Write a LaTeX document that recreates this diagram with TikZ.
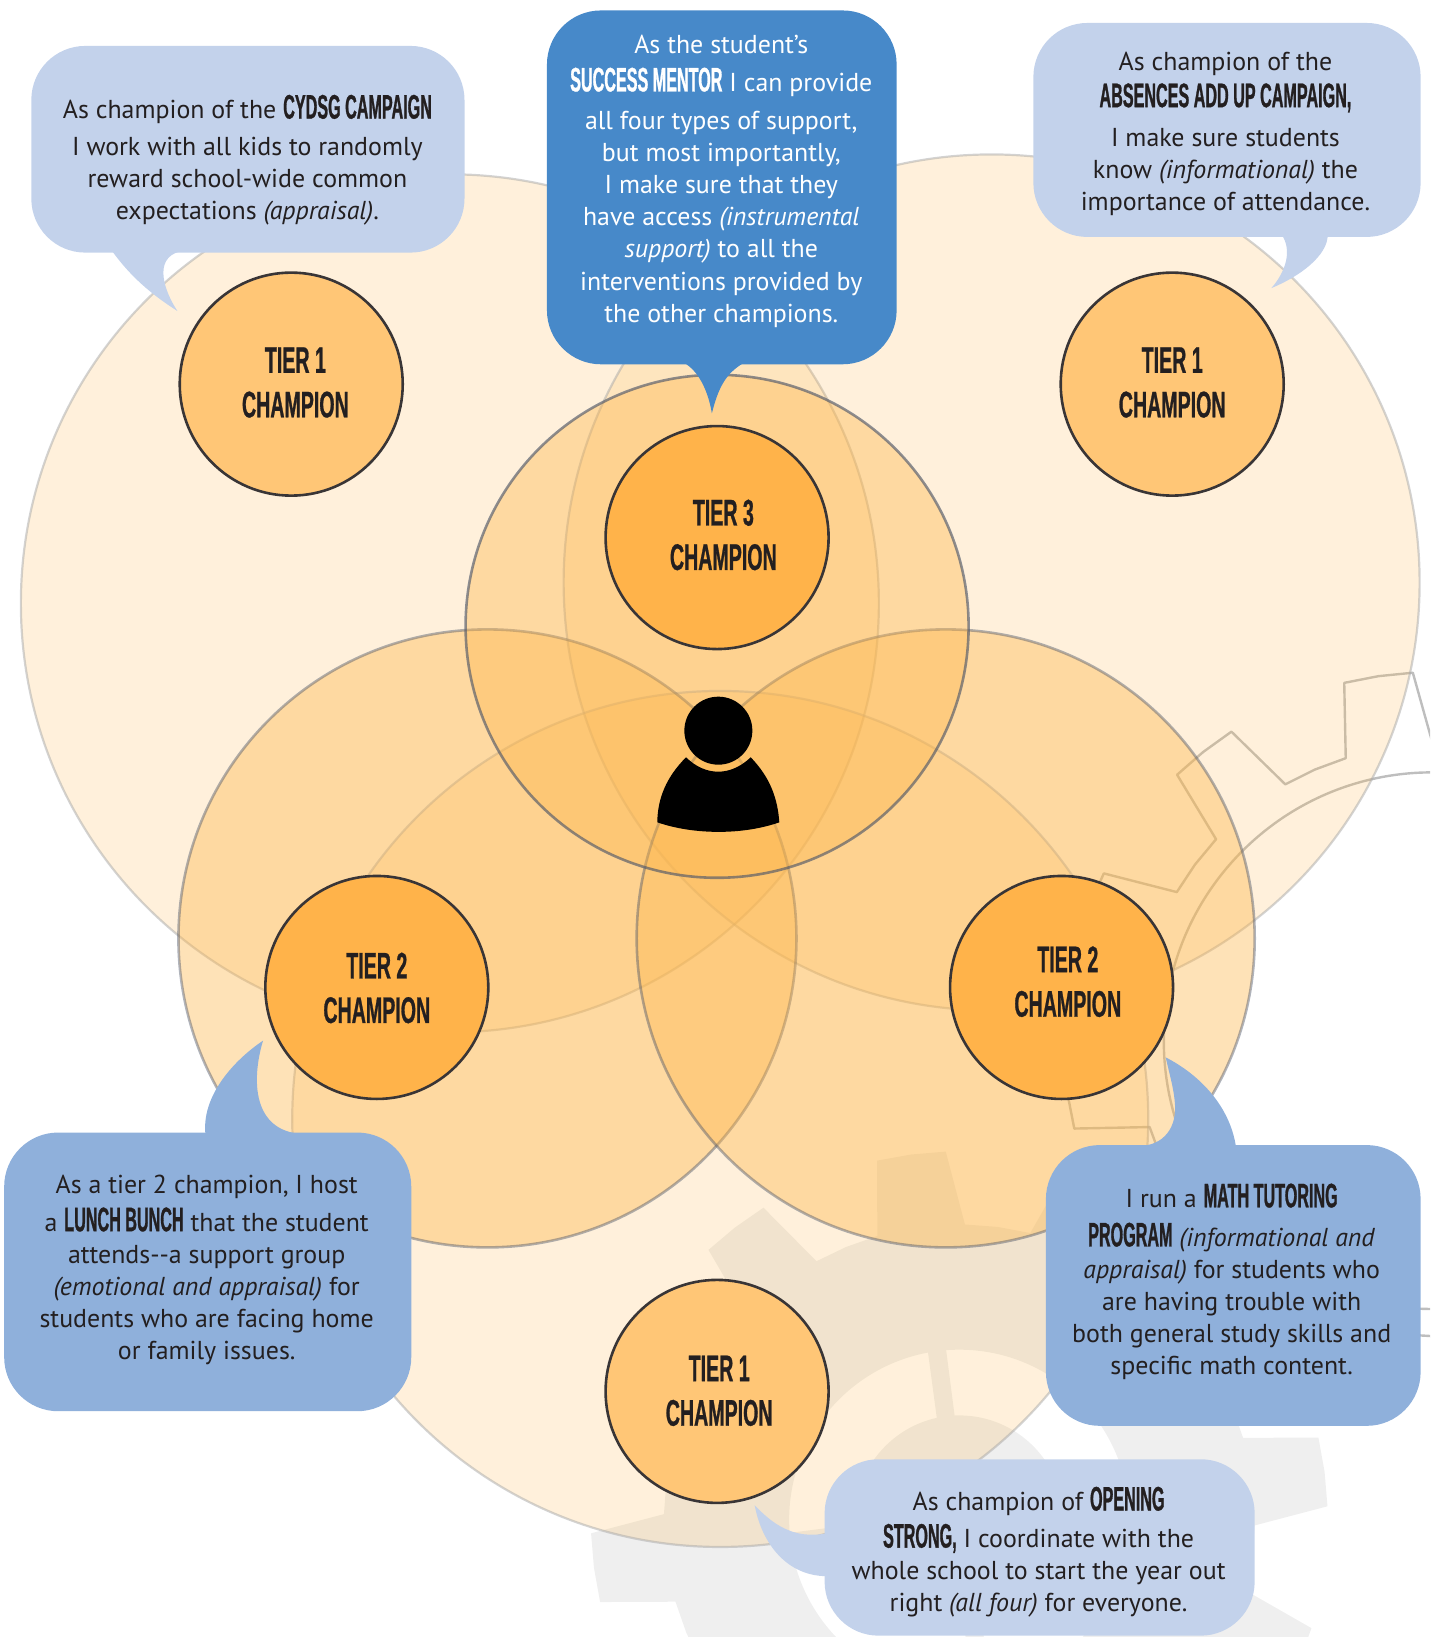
\documentclass[tikz,border=0pt]{standalone}
\usepackage{fontspec}
\setmainfont{PT Sans}
\newfontfamily\headfont[FakeStretch=0.475,FakeBold=0.8]{Liberation Sans Bold}
\newfontfamily\tierfont[FakeStretch=0.53,FakeBold=0.7]{Liberation Sans Bold}
\newcommand{\hd}[1]{{\fontsize{34}{32}\headfont #1}}
\definecolor{ink}{HTML}{231F20}
\definecolor{orange}{HTML}{FDB64B}
\definecolor{tierone}{HTML}{FFC676}
\definecolor{tiertwo}{HTML}{FFB34A}
\definecolor{bubblepale}{HTML}{C3D2EB}
\definecolor{bubblemid}{HTML}{8FB0DB}
\definecolor{bubbledark}{HTML}{4789C9}
\definecolor{gearfill}{HTML}{EFEFEF}
\definecolor{gearline}{HTML}{A8A8A8}
\definecolor{ringline}{HTML}{50586A}
\newcommand{\gearpts}[3]{% centre x, centre y, offset
  ({#1+283*cos(#3-8.6)},{#2-283*sin(#3-8.6)})
  \foreach \k [evaluate=\k as \c using #3+30*\k] in {0,...,11}{
    -- ({#1+353*cos(\c-5.4)},{#2-353*sin(\c-5.4)})
    -- ({#1+353*cos(\c)},{#2-353*sin(\c)})
    -- ({#1+353*cos(\c+5.4)},{#2-353*sin(\c+5.4)})
    -- ({#1+283*cos(\c+8.6)},{#2-283*sin(\c+8.6)})
    -- ({#1+283*cos(\c+15)},{#2-283*sin(\c+15)})
    -- ({#1+283*cos(\c+21.4)},{#2-283*sin(\c+21.4)})
  } -- cycle}
\tikzset{
  bigring/.style={fill=orange,fill opacity=.2,draw=gearline,draw opacity=.5,line width=2.2pt},
  midring/.style={fill=orange,fill opacity=.4,draw=ringline,draw opacity=.45,line width=2.6pt},
  topring/.style={fill=orange,fill opacity=.4,draw=ringline,draw opacity=.65,line width=2.6pt},
  champ/.style={circle,draw=ink!90,line width=2.6pt,inner sep=0pt,minimum size=223pt},
  tierlabel/.style={text=ink,align=center,font=\fontsize{37}{44.5}\tierfont,inner sep=0pt},
  saytext/.style={text=ink,align=center,font=\fontsize{25.9}{32.1}\selectfont,inner sep=0pt},
  palebub/.style={fill=bubblepale},
  midbub/.style={fill=bubblemid},
  darkbub/.style={fill=bubbledark},
}
\begin{document}
\begin{tikzpicture}[x=1.04380pt,y=-1.04380pt]
\useasboundingbox (0,0) rectangle (1370,1568.3);
\clip (0,0) rectangle (1370,1568.3);
% background gears
\fill[gearfill,even odd rule] \gearpts{919}{1456}{7.5} (919,1456) circle[radius=170.1pt];
\fill[gearfill] (919,1456) circle[radius=104.4pt];
\foreach \a in {97.5,187.5,7.5,277.5}{
  \fill[gearfill] ({919+95*cos(\a-5.2)},{1456-95*sin(\a-5.2)}) -- ({919+168*cos(\a-3)},{1456-168*sin(\a-3)})
    -- ({919+168*cos(\a+3)},{1456-168*sin(\a+3)}) -- ({919+95*cos(\a+5.2)},{1456-95*sin(\a+5.2)}) -- cycle;
}
\draw[gearline,line width=2.4pt,opacity=.75,line join=round] \gearpts{1372}{997}{8.4};
\draw[gearline,line width=2.4pt,opacity=.75] (1372,997) circle[radius=268.3pt];
% spheres of support
\path[bigring] (431,578) circle[radius=429pt];
\path[bigring] (950,558) circle[radius=428pt];
\path[bigring] (690,1072) circle[radius=428pt];
\path[midring] (467,899) circle[radius=309pt];
\path[midring] (906,899) circle[radius=309pt];
\path[topring] (687,600) circle[radius=251.5pt];
% student icon
\fill[black] (688.2,700) circle[radius=34pt];
\fill[black] (657.2,725.5) .. controls (638,745) and (630,765) .. (629.7,787.8)
  .. controls (665,800) and (712,800) .. (746.6,787.8)
  .. controls (745,765) and (738,745) .. (719.2,725.5)
  .. controls (700,743.9) and (676,743.9) .. (657.2,725.5) -- cycle;
% champions
\node[champ,fill=tierone] (c1) at (279,368) {};
\node[champ,fill=tierone] (c2) at (1123,368) {};
\node[champ,fill=tiertwo] (c3) at (687,515) {};
\node[champ,fill=tiertwo] (c4) at (361,946) {};
\node[champ,fill=tiertwo] (c5) at (1017,946) {};
\node[champ,fill=tierone] (c6) at (687,1333) {};
\node[tierlabel] (l1) at (283,366.5) {TIER 1\\CHAMPION};
\node[tierlabel] (l2) at (1123,366.5) {TIER 1\\CHAMPION};
\node[tierlabel] (l3) at (693,512.5) {TIER 3\\CHAMPION};
\node[tierlabel] (l4) at (361,946.5) {TIER 2\\CHAMPION};
\node[tierlabel] (l5) at (1023,940.5) {TIER 2\\CHAMPION};
\node[tierlabel] (l6) at (689,1332.5) {TIER 1\\CHAMPION};
% speech bubbles
\fill[palebub,rounded corners=54pt] (30,44) rectangle (445,242);
\fill[palebub] (107,240) .. controls (125,265) and (145,282) .. (170,298) .. controls (158,280) and (146,248) .. (172,241) -- cycle;
\fill[darkbub,rounded corners=54pt] (524,10) rectangle (859,349);
\fill[darkbub] (656,348) .. controls (668,355) and (678,372) .. (682,396) .. controls (688,372) and (695,358) .. (712,348) -- cycle;
\fill[palebub,rounded corners=54pt] (990,22) rectangle (1361,227);
\fill[palebub] (1272,225) .. controls (1272,245) and (1245,265) .. (1218,276) .. controls (1232,260) and (1238,240) .. (1228,225) -- cycle;
\fill[midbub,rounded corners=54pt] (4,1085) rectangle (394,1352);
\fill[midbub] (197,1088) .. controls (192,1050) and (225,1015) .. (252,997) .. controls (242,1030) and (240,1080) .. (285,1086) -- cycle;
\fill[midbub,rounded corners=54pt] (1002,1097) rectangle (1361,1366);
\fill[midbub] (1116.8,1013) .. controls (1150,1030) and (1178,1060) .. (1184,1098)
  -- (1090,1098) .. controls (1115,1098) and (1128,1080) .. (1125.5,1056) .. controls (1124,1040) and (1120,1028) .. (1116.8,1013) -- cycle;
\fill[palebub,rounded corners=54pt] (790,1398) rectangle (1202,1567);
\fill[palebub] (723,1442) .. controls (740,1460) and (760,1475) .. (792,1469) -- (792,1510) .. controls (755,1510) and (730,1480) .. (723,1442) -- cycle;
% speech texts
\node[saytext] (s1) at (237,153.5) {As champion of the \hd{CYDSG CAMPAIGN}\\[5pt]
 I work with all kids to randomly\\reward school-wide common\\expectations \textit{(appraisal)}.};
\node[saytext,text=white] (s2) at (691,173.5) {As the student’s\\[6pt]
 \hd{SUCCESS MENTOR} I can provide\\[6pt]
 all four types of support,\\but most importantly,\\I make sure that they\\have access \textit{(instrumental}\\
 \textit{support)} to all the\\interventions provided by\\the other champions.};
\node[saytext] (s3) at (1174,128) {As champion of the\\[5pt]
 \hd{ABSENCES ADD UP CAMPAIGN,}\\[7pt]
 I make sure students\\know \textit{(informational)} the\\importance of attendance.};
\node[saytext] (s4) at (198,1216.5) {As a tier 2 champion, I host\\[6pt]
 a \hd{LUNCH BUNCH} that the student\\attends-{}-a support group\\\textit{(emotional and appraisal)} for\\students who are facing home\\or family issues.};
\node[saytext] (s5) at (1180,1228) {I run a \hd{MATH TUTORING}\\[7pt]
 \hd{PROGRAM} \textit{(informational and}\\\textit{appraisal)} for students who\\are having trouble with\\both general study skills and\\specific math content.};
\node[saytext] (s6) at (995,1487) {As champion of \hd{OPENING}\\[5pt]
 \hd{STRONG,} I coordinate with the\\whole school to start the year out\\right \textit{(all four)} for everyone.};
\end{tikzpicture}
\end{document}
